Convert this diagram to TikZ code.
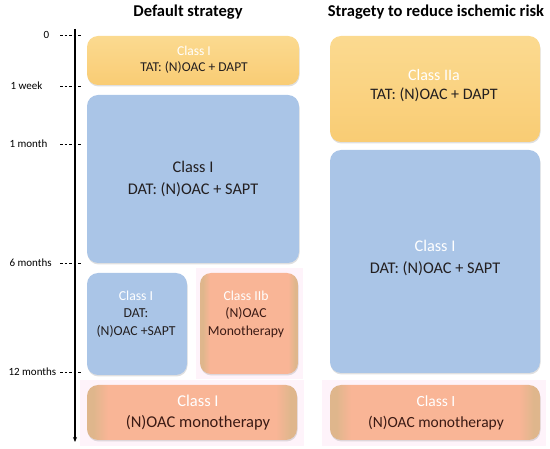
\documentclass[tikz,border=0pt]{standalone}
\usepackage{fontspec}
\setmainfont{Carlito}
\usetikzlibrary{shadows}
\usetikzlibrary{arrows.meta}
\definecolor{TatYellow}{HTML}{F9CC74}
\definecolor{TatYellowTop}{HTML}{FBDA90}
\definecolor{DatBlue}{HTML}{AAC5E7}
\definecolor{MonoOrange}{HTML}{F9B596}
\definecolor{MonoTan}{HTML}{DFB68C}
\definecolor{PinkBack}{HTML}{FEF3FA}
\definecolor{DarkText}{HTML}{231F20}
\definecolor{BrownText}{HTML}{3B1A14}
\pgfdeclarehorizontalshading{monoshade}{100bp}{color(0bp)=(MonoTan); color(26.5bp)=(MonoTan); color(30bp)=(MonoOrange); color(70bp)=(MonoOrange); color(73.5bp)=(MonoTan); color(100bp)=(MonoTan)}

\begin{document}
\begin{tikzpicture}[
    x=1pt, y=-1pt,
    every node/.style={
        font=\fontsize{16.3}{22}\selectfont,
        align=center,
        text=DarkText
    },
    box/.style={
        rectangle,
        rounded corners=11pt,
        drop shadow={opacity=0.25, shadow xshift=0.5pt, shadow yshift=-1.5pt},
        inner sep=0pt
    },
    tat/.style={box, top color=TatYellowTop, bottom color=TatYellow},
    dat/.style={box, fill=DatBlue},
    mono/.style={box, shading=monoshade, text=BrownText},
    smalltext/.style={font=\fontsize{13.7}{17.5}\selectfont},
    tick/.style={
        font=\fontsize{11}{13}\selectfont,
        text=black,
        anchor=west
    },
    title/.style={
        font=\fontsize{16.5}{19}\selectfont\bfseries,
        text=black
    },
    ticksep/.style={dash pattern=on 2.5pt off 2pt}
]
\useasboundingbox (0,0) rectangle (550,449);

% faint background behind the monotherapy boxes
\fill[PinkBack] (196,268) rectangle (303,379);
\fill[PinkBack] (80,380) rectangle (304,446);
\fill[PinkBack] (322,380) rectangle (546,446);

% titles
\node[title] (default) at (188,12) {Default strategy};
\node[title] (reduce) at (436,12) {Stragety to reduce ischemic risk};

% time axis
\coordinate (axtop) at (75,29);
\coordinate (axbot) at (75,442);
\draw[line width=1.1pt, -{Stealth[length=5pt, width=4pt]}] (axtop) -- (axbot);

\node[tick] (t0) at (40,35) {0};
\node[tick] (t1) at (7,86) {1 week};
\node[tick] (t2) at (6,144) {1 month};
\node[tick] (t3) at (6,263) {6 months};
\node[tick] (t4) at (5,372) {12 months};

\coordinate (s0) at (60,35);  \coordinate (d0) at (81,35);
\coordinate (s1) at (60,86);  \coordinate (d1) at (81,86);
\coordinate (s2) at (60,144); \coordinate (d2) at (81,144);
\coordinate (s3) at (60,263); \coordinate (d3) at (81,263);
\coordinate (s4) at (60,372); \coordinate (d4) at (81,372);

\draw[ticksep] (s0) -- (d0);
\draw[ticksep] (s1) -- (d1);
\draw[ticksep] (s2) -- (d2);
\draw[ticksep] (s3) -- (d3);
\draw[ticksep] (s4) -- (d4);

% default strategy
\node[tat, minimum width=212pt, minimum height=49pt] (tatA) at (193,60.5) {};
\node[font=\fontsize{13.5}{16}\selectfont] at (194,60) {\textcolor{white}{Class I}\\TAT: (N)OAC + DAPT};

\node[dat, minimum width=212pt, minimum height=168pt] (datA) at (193,179) {};
\node at (193,179) {Class I\\DAT: (N)OAC + SAPT};

\node[dat, minimum width=100pt, minimum height=102pt] (datB) at (137,324) {};
\node[smalltext, anchor=north] at (136,287) {\textcolor{white}{Class I}\\DAT:\\(N)OAC +SAPT};

\node[mono, minimum width=98pt, minimum height=101pt] (monoB) at (249,323.5) {};
\node[smalltext, anchor=north, text=BrownText] at (246,287) {\textcolor{white}{Class IIb}\\(N)OAC\\Monotherapy};

\node[mono, minimum width=210pt, minimum height=55pt] (monoA) at (192,412.5) {};
\node[font=\fontsize{16.5}{21}\selectfont, text=BrownText] at (198,412.5) {\textcolor{white}{Class I}\\(N)OAC monotherapy};

% strategy to reduce ischemic risk
\node[tat, minimum width=210pt, minimum height=106pt] (tatC) at (435,89) {};
\node[font=\fontsize{16}{19}\selectfont] at (434,85.5) {\textcolor{white}{Class IIa}\\TAT: (N)OAC + DAPT};

\node[dat, minimum width=210pt, minimum height=223pt] (datC) at (435,261.5) {};
\node at (435,258) {\textcolor{white}{Class I}\\DAT: (N)OAC + SAPT};

\node[mono, minimum width=210pt, minimum height=55pt] (monoC) at (435,412.5) {};
\node[font=\fontsize{15.5}{21}\selectfont, text=BrownText] at (436,412.5) {\textcolor{white}{Class I}\\(N)OAC monotherapy};

\end{tikzpicture}
\end{document}
